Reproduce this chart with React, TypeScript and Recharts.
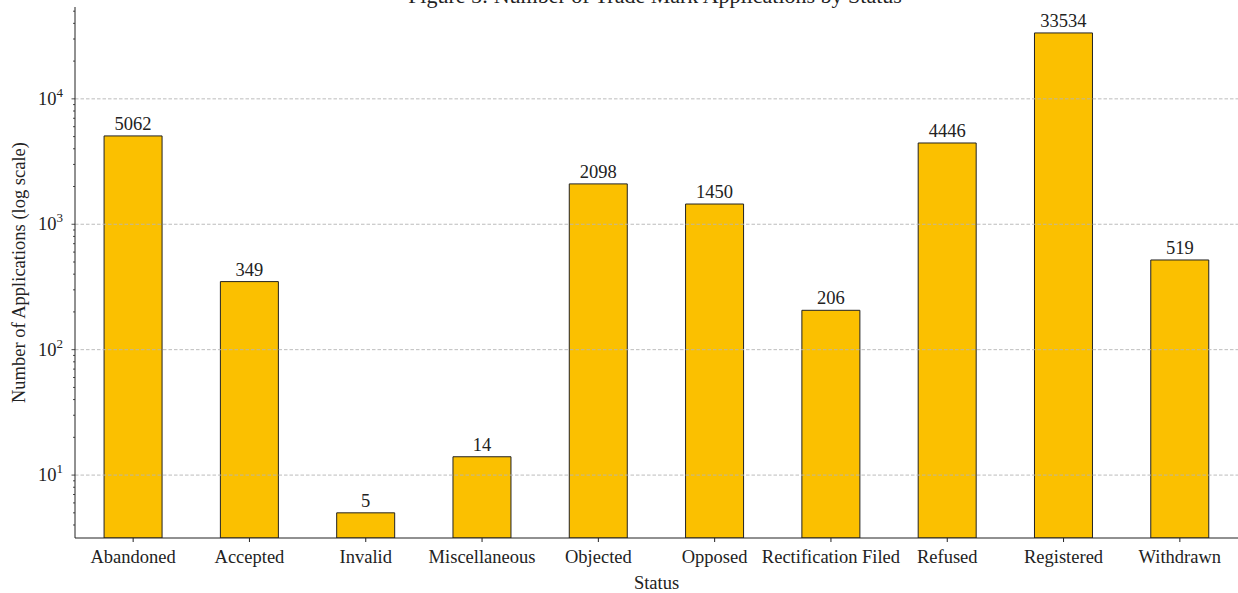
import React from 'react';
import { BarChart, Bar, XAxis, YAxis, ReferenceLine, LabelList } from 'recharts';

const categories = [
  'Abandoned',
  'Accepted',
  'Invalid',
  'Miscellaneous',
  'Objected',
  'Opposed',
  'Rectification Filed',
  'Refused',
  'Registered',
  'Withdrawn',
];
const counts = [5062, 349, 5, 14, 2098, 1450, 206, 4446, 33534, 519];

const majorTicks = [10, 100, 1000, 10000];
const minorTicks = [
  4, 5, 6, 7, 8, 9,
  20, 30, 40, 50, 60, 70, 80, 90,
  200, 300, 400, 500, 600, 700, 800, 900,
  2000, 3000, 4000, 5000, 6000, 7000, 8000, 9000,
  20000, 30000, 40000, 50000,
];

const data = categories.map((status, i) => ({ status, count: counts[i] }));

const W = 1238;
const H = 593;
const FONT = '"Liberation Serif", "DejaVu Serif", serif';
const FS = 18.5;
const INK = '#222';

const LogTick = (props: any) => {
  const { x, y, payload } = props;
  const v = payload.value as number;
  const isMajor = majorTicks.includes(v);
  const exp = Math.round(Math.log10(v));
  return (
    <g>
      <line x1={x - (isMajor ? 3.5 : 2)} x2={x} y1={y} y2={y} stroke={INK} strokeWidth={0.8} />
      {isMajor && (
        <text x={x - 12} y={y + 6} textAnchor="end" fontFamily={FONT} fontSize={FS} fill={INK}>
          10
          <tspan dy={-8} fontSize={13}>
            {exp}
          </tspan>
        </text>
      )}
    </g>
  );
};

export default function App() {
  return (
    <div style={{ position: 'absolute', left: 0, top: 0, width: W, height: H, background: '#fff' }}>
      <BarChart
        width={W}
        height={H}
        data={data}
        margin={{ top: 7, right: 0, bottom: 0, left: 0 }}
        barCategoryGap="25%"
      >
        <XAxis
          dataKey="status"
          height={55}
          interval={0}
          stroke={INK}
          tickSize={4}
          tickMargin={8}
          tick={{ fontFamily: FONT, fontSize: FS, fill: INK }}
          label={{
            value: 'Status',
            position: 'insideBottom',
            offset: 4,
            style: { fontFamily: FONT, fontSize: FS, fill: INK },
          }}
        />
        <YAxis
          scale="log"
          domain={[3.15, 54000]}
          allowDataOverflow
          width={75}
          ticks={[...minorTicks, ...majorTicks].sort((a, b) => a - b)}
          interval={0}
          stroke={INK}
          tickLine={false}
          tickSize={0}
          tickMargin={0}
          tick={<LogTick />}
          label={{
            value: 'Number of Applications (log scale)',
            angle: -90,
            position: 'insideLeft',
            offset: 18,
            style: { fontFamily: FONT, fontSize: FS, fill: INK, textAnchor: 'middle' },
          }}
        />
        <Bar dataKey="count" fill="#FBC000" stroke={INK} strokeWidth={1} isAnimationActive={false}>
          <LabelList
            dataKey="count"
            position="top"
            offset={6}
            style={{ fontFamily: FONT, fontSize: FS, fill: INK }}
          />
        </Bar>
        {majorTicks.map((t) => (
          <ReferenceLine key={t} y={t} stroke="#b5b5b5" strokeWidth={0.9} strokeDasharray="3.5 2" />
        ))}
      </BarChart>
      <svg
        width={W}
        height={20}
        style={{ position: 'absolute', left: 0, top: 0, pointerEvents: 'none' }}
      >
        <text x={655} y={3} textAnchor="middle" fontFamily={FONT} fontSize={22} fill={INK}>
          Figure 5: Number of Trade Mark Applications by Status
        </text>
      </svg>
    </div>
  );
}
